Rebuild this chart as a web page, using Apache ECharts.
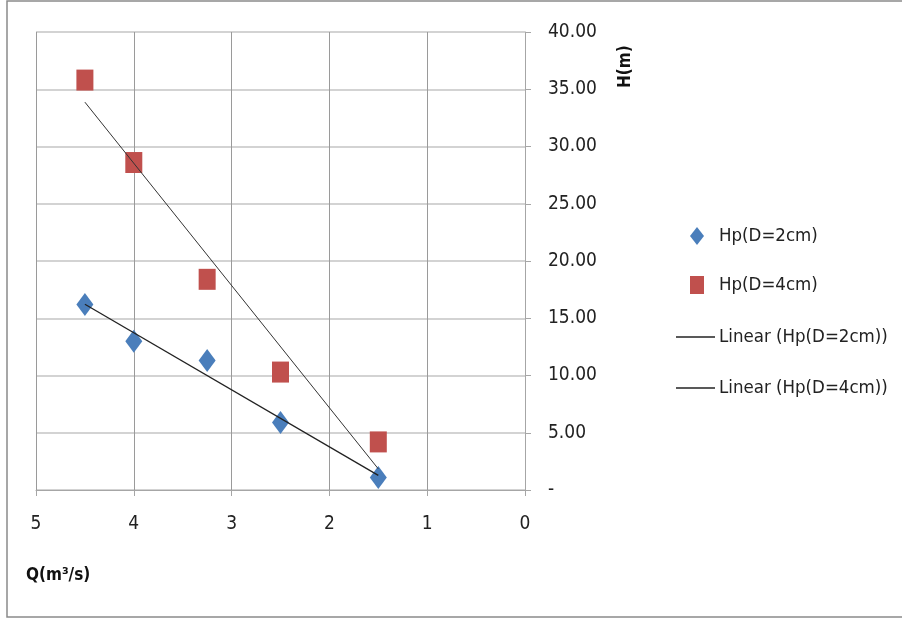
<!DOCTYPE html>
<html><head><meta charset="utf-8">
<script src="https://cdn.jsdelivr.net/npm/echarts@6/dist/echarts.min.js"></script>
<style>html,body{margin:0;padding:0;background:#fff}#c{width:902px;height:619px}</style>
</head><body><div id="c"></div>
<script>
var qValues = [4.5, 4, 3.25, 2.5, 1.5];
var hpD2 = [16.2, 13.0, 11.3, 5.9, 1.1];
var hpD4 = [35.8, 28.6, 18.4, 10.3, 4.2];
var seriesNames = ['Hp(D=2cm)', 'Hp(D=4cm)', 'Linear (Hp(D=2cm))', 'Linear (Hp(D=4cm))'];
var xTicks = [0, 1, 2, 3, 4, 5];
var yTicks = [0, 5, 10, 15, 20, 25, 30, 35, 40];

function pairs(xs, ys) { return xs.map(function (x, i) { return [x, ys[i]]; }); }
function trend(xs, ys) {
  var n = xs.length, mx = 0, my = 0;
  for (var i = 0; i < n; i++) { mx += xs[i]; my += ys[i]; }
  mx /= n; my /= n;
  var sxy = 0, sxx = 0;
  for (var j = 0; j < n; j++) { sxy += (xs[j]-mx)*(ys[j]-my); sxx += (xs[j]-mx)*(xs[j]-mx); }
  var b = sxy / sxx, a = my - b * mx;
  var x0 = Math.max.apply(null, xs), x1 = Math.min.apply(null, xs);
  return [[x0, a + b * x0], [x1, a + b * x1]];
}

var FONT = "'DejaVu Sans Condensed', 'Liberation Sans Narrow', sans-serif";
var chart = echarts.init(document.getElementById('c'), null, {renderer: 'canvas'});
chart.setOption({
  backgroundColor: '#fff',
  animation: false,
  grid: {left: 36, right: 377, top: 32, bottom: 129, containLabel: false},
  xAxis: {
    type: 'value', min: 0, max: 5, interval: 1, inverse: true,
    axisLine: {show: true, lineStyle: {color: '#a6a6a6'}},
    axisTick: {show: true, length: 6, lineStyle: {color: '#a6a6a6'}},
    axisLabel: {margin: 25, fontFamily: FONT, fontSize: 19, color: '#222'},
    splitLine: {show: true, lineStyle: {color: '#9a9a9a', width: 1}}
  },
  yAxis: {
    type: 'value', position: 'right', min: 0, max: 40, interval: 5,
    axisLine: {show: true, lineStyle: {color: '#a6a6a6'}},
    axisTick: {show: true, length: 6, lineStyle: {color: '#a6a6a6'}},
    axisLabel: {margin: 23, fontFamily: FONT, fontSize: 19, color: '#222',
      formatter: function (v) { return v === 0 ? '-' : v.toFixed(2); }},
    splitLine: {show: true, lineStyle: {color: '#c4c4c4', width: 1.5}}
  },
  legend: [{
    orient: 'vertical', left: 690, top: 226, padding: 0, itemWidth: 14, itemHeight: 18, itemGap: 29,
    textStyle: {fontFamily: FONT, fontSize: 18.5, color: '#222', lineHeight: 20, padding: [0, 0, 0, 10]},
    itemStyle: {opacity: 1},
    data: [seriesNames[0], seriesNames[1]]
  }, {
    orient: 'vertical', left: 676, top: 327, padding: 0, itemWidth: 39, itemHeight: 1.6, itemGap: 31, icon: 'rect',
    textStyle: {fontFamily: FONT, fontSize: 18.5, color: '#222', lineHeight: 20, padding: [0, 0, 0, -1]},
    itemStyle: {color: '#222'},
    data: [seriesNames[2], seriesNames[3]]
  }],
  graphic: [
    {type: 'rect', shape: {x: 7, y: 1, width: 900, height: 616}, style: {fill: 'none', stroke: '#8a8a8a', lineWidth: 1.5}, silent: true, z: -1},
    {type: 'text', left: 26, top: 567, style: {text: 'Q(m³/s)', font: "bold 17px " + FONT, fill: '#111'}},
    {type: 'text', x: 617, y: 88, rotation: Math.PI / 2, style: {text: 'H(m)', font: "bold 17px " + FONT, fill: '#111'}}
  ],
  series: [
    {name: seriesNames[0], type: 'scatter', symbol: 'diamond', symbolSize: [17, 23],
     itemStyle: {color: '#4a7ebb', opacity: 1}, data: pairs(qValues, hpD2), z: 3},
    {name: seriesNames[1], type: 'scatter', symbol: 'rect', symbolSize: [17, 21],
     itemStyle: {color: '#c0504d', opacity: 1}, data: pairs(qValues, hpD4), z: 3},
    {name: seriesNames[2], type: 'line', symbol: 'none', lineStyle: {color: '#222', width: 1.3},
     itemStyle: {color: '#222'}, data: trend(qValues, hpD2), z: 4},
    {name: seriesNames[3], type: 'line', symbol: 'none', lineStyle: {color: '#333', width: 1},
     itemStyle: {color: '#333'}, data: trend(qValues, hpD4), z: 4}
  ]
});
</script></body></html>
